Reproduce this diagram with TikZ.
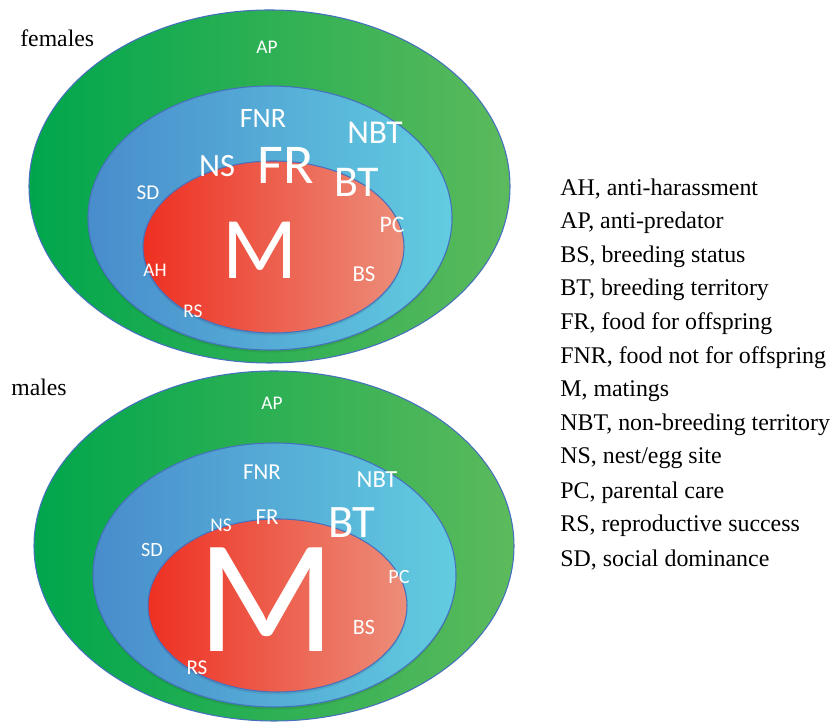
\documentclass[tikz,border=0pt]{standalone}
\usepackage{fontspec}
\setmainfont{Liberation Serif}
\newfontfamily\lbl{Carlito}
\usepackage{tikz}
\usetikzlibrary{positioning}
\definecolor{grL}{RGB}{0,166,76}
\definecolor{grR}{RGB}{92,186,92}
\definecolor{blL}{RGB}{72,140,204}
\definecolor{blR}{RGB}{98,204,224}
\definecolor{rdL}{RGB}{238,48,34}
\definecolor{rdR}{RGB}{236,142,122}
\definecolor{rim}{RGB}{70,112,190}

\begin{document}
\begin{tikzpicture}[x=0.02cm, y=0.02cm]
	\tikzset{ring/.style={draw=rim, line width=0.6pt},
		shadow/.style={fill=black, opacity=0.08},
		lab/.style={text=white, inner sep=0pt, font=\lbl\fontsize{#1}{#1}\selectfont},
		title/.style={anchor=west, inner sep=0pt, font=\fontsize{13.5}{14}\selectfont},
		key/.style={anchor=west, inner sep=0pt, font=\fontsize{13.6}{15}\selectfont}}
	\useasboundingbox (0,0) rectangle (832,722);

	% females
	\shade[ring, left color=grL, right color=grR] (269.5,535.5) ellipse [x radius=240.5, y radius=176.5];
	\fill[shadow] (270,501.5) ellipse [x radius=182, y radius=132];
	\shade[ring, left color=blL, right color=blR] (270,504) ellipse [x radius=182, y radius=132];
	\fill[shadow] (273.5,472.5) ellipse [x radius=130.5, y radius=86];
	\shade[ring, left color=rdL, right color=rdR] (273.5,475) ellipse [x radius=130.5, y radius=86];
	\node[title] (females) at (20,684) {females};
	\node[lab=11] (fAP) at (267,675) {AP};
	\node[lab=16] (fFNR) at (263,604) {FNR};
	\node[lab=19] (fNBT) at (375,589) {NBT};
	\node[lab=18.5] (fNS) at (217,556) {NS};
	\node[lab=32] (fFR) at (286,557) {FR};
	\node[lab=25] (fBT) at (357,540) {BT};
	\node[lab=12] (fSD) at (148,529) {SD};
	\node[lab=13.5] (fPC) at (392,497) {PC};
	\node[lab=50] (fM) at (260,472) {M};
	\node[lab=11] (fAH) at (155,452) {AH};
	\node[lab=13] (fBS) at (364,448) {BS};
	\node[lab=11] (fRS) at (193,411) {RS};

	% males
	\shade[ring, left color=grL, right color=grR] (274,176) ellipse [x radius=240, y radius=175];
	\fill[shadow] (274.5,144.5) ellipse [x radius=181.5, y radius=132];
	\shade[ring, left color=blL, right color=blR] (274.5,147) ellipse [x radius=181.5, y radius=132];
	\fill[shadow] (277.5,114) ellipse [x radius=129.5, y radius=86.5];
	\shade[ring, left color=rdL, right color=rdR] (277.5,116.5) ellipse [x radius=129.5, y radius=86.5];
	\node[title] (males) at (11,335) {males};
	\node[lab=11] (mAP) at (272,319) {AP};
	\node[lab=13] (mFNR) at (262,250) {FNR};
	\node[lab=14] (mNBT) at (377,242) {NBT};
	\node[lab=11] (mNS) at (221,197) {NS};
	\node[lab=13] (mFR) at (267,205) {FR};
	\node[lab=26.5] (mBT) at (352,199) {BT};
	\node[lab=11.5] (mSD) at (152,172) {SD};
	\node[lab=92] (mM) at (267,122) {M};
	\node[lab=11.5] (mPC) at (399,145) {PC};
	\node[lab=12.5] (mBS) at (364,95) {BS};
	\node[lab=12] (mRS) at (197,54) {RS};

	% key
	\foreach \txt [count=\i from 0] in {{AH, anti-harassment}, {AP, anti-predator},
		{BS, breeding status}, {BT, breeding territory}, {FR, food for offspring},
		{FNR, food not for offspring}, {M, matings}, {NBT, non-breeding territory},
		{NS, nest/egg site}, {PC, parental care}, {RS, reproductive success},
		{SD, social dominance}}
		\node[key] (key\i) at (560,533-33.7*\i) {\txt};
\end{tikzpicture}
\end{document}
